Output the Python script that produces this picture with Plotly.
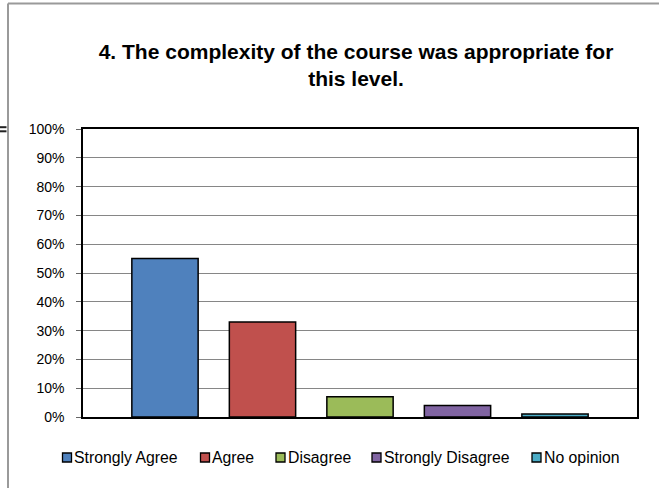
import plotly.graph_objects as go

categories = ["Strongly Agree", "Agree", "Disagree", "Strongly Disagree", "No opinion"]
values = [0.55, 0.33, 0.07, 0.04, 0.01]
colors = ["#4F81BD", "#C0504D", "#9BBB59", "#8064A2", "#4BACC6"]
group_label = ["Q4"]

# layout geometry (pixels)
W, H = 659, 488
PL, PR, PT, PB = 83, 637, 129, 417
legend_left = [62.5, 200.5, 276, 372, 532]
legend_y = 457.5
sq = 9


def px(x):
    return (x - PL) / (PR - PL)


def py(y):
    return (PB - y) / (PB - PT)


fig = go.Figure()
for name, v, c in zip(categories, values, colors):
    fig.add_trace(go.Bar(
        x=group_label, y=[v], name=name, showlegend=False,
        marker=dict(color=c, line=dict(color="#000000", width=1.5)),
    ))

shapes = [
    dict(type="line", xref="paper", yref="paper",
         x0=px(8), x1=px(662), y0=py(3.5), y1=py(3.5),
         line=dict(color="#9a9a9a", width=2)),
    dict(type="line", xref="paper", yref="paper",
         x0=px(8), x1=px(8), y0=py(3.5), y1=py(492),
         line=dict(color="#9a9a9a", width=2)),
    dict(type="line", xref="paper", yref="paper",
         x0=px(0), x1=px(6.5), y0=py(127.2), y1=py(127.2),
         line=dict(color="#222222", width=2)),
    dict(type="line", xref="paper", yref="paper",
         x0=px(0), x1=px(6.5), y0=py(131.3), y1=py(131.3),
         line=dict(color="#222222", width=2)),
]
annotations = []
for name, c, lx in zip(categories, colors, legend_left):
    shapes.append(dict(
        type="rect", xref="paper", yref="paper",
        x0=px(lx), x1=px(lx + sq), y0=py(legend_y - sq / 2), y1=py(legend_y + sq / 2),
        fillcolor=c, line=dict(color="#000000", width=1.3),
    ))
    annotations.append(dict(
        text=name, xref="paper", yref="paper", x=px(lx + sq + 0.5), y=py(legend_y),
        xanchor="left", yanchor="middle", showarrow=False,
        font=dict(size=15.8, color="#000000"),
    ))

fig.update_layout(
    width=W, height=H,
    margin=dict(l=PL, r=W - PR, t=PT, b=H - PB),
    paper_bgcolor="white", plot_bgcolor="white",
    barmode="group", bargap=0.12, bargroupgap=0.32,
    font=dict(family="Liberation Sans, Arial, sans-serif", size=14, color="#000000"),
    title=dict(
        text="<b>4. The complexity of the course was appropriate for<br>this level.</b>",
        xref="paper", x=px(356), xanchor="center",
        yref="container", y=1 - 59 / H, yanchor="middle",
        font=dict(size=21, color="#000000"),
    ),
    showlegend=False,
    xaxis=dict(
        showticklabels=False, showline=True, mirror=True, linecolor="#000000",
        linewidth=1.5, ticks="", showgrid=False, fixedrange=True,
    ),
    yaxis=dict(
        range=[0, 1], dtick=0.1, tickformat=".0%", showgrid=True,
        gridcolor="#868686", gridwidth=1.2, showline=True, mirror=True,
        linecolor="#000000", linewidth=1.5, ticks="outside", ticklen=5,
        tickcolor="#666666", zeroline=False, fixedrange=True,
        ticklabelstandoff=9, tickfont=dict(size=14),
    ),
    shapes=shapes,
    annotations=annotations,
)

fig.write_html("out.html", config={"displayModeBar": False},
               post_script="document.body.style.margin='0px';")
